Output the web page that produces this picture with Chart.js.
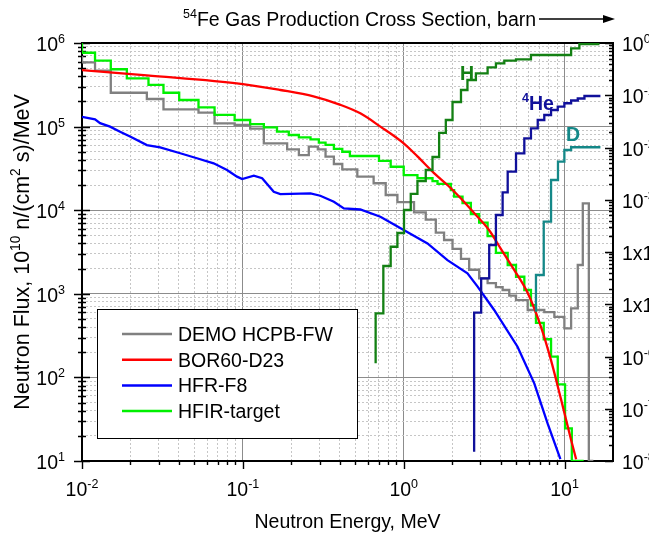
<!DOCTYPE html>
<html>
<head>
<meta charset="utf-8">
<script src="https://cdn.jsdelivr.net/npm/chart.js@4.4.1/dist/chart.umd.min.js"></script>
<style>
  html, body { margin: 0; padding: 0; background: #fff; }
  canvas { display: block; }
</style>
</head>
<body>
<canvas id="c" width="649" height="535"></canvas>
<script>
// ---- Neutron spectra: energy (MeV) and flux, 10^10 n/(cm^2 s)/MeV ----
// Group spectra: each value holds from its energy up to the next one.
const demoE = [0.01, 0.01205, 0.0151, 0.0253, 0.0321, 0.053, 0.0667, 0.0889, 0.111, 0.135,
  0.1885, 0.223, 0.257, 0.2925, 0.3266, 0.368, 0.415, 0.5146, 0.650, 0.7727,
  0.9136, 1.159, 1.371, 1.583, 1.782, 2.011, 2.27, 2.552, 2.945, 3.323,
  3.743, 4.12, 4.53, 4.99, 5.9, 7.48, 8.64, 9.97, 10.98, 12.08,
  12.98, 14.15, 15.1];
const demoFlux = [7.0e5, 5.88e5, 4.66e5, 2.54e5, 2.14e5, 1.61e5, 1.47e5, 1.09e5, 1.05e5, 9.45e4,
  6.3e4, 5.35e4, 4.57e4, 5.75e4, 5.35e4, 4.37e4, 3.57e4, 3.08e4, 2.52e4, 2.1e4,
  1.52e4, 1.25e4, 9.4e3, 7.7e3, 5.4e3, 4.4e3, 3.45e3, 2.62e3, 1.94e3, 1.53e3,
  1.34e3, 1.2e3, 1.11e3, 9.5e2, 8.4e2, 6.4e2, 6.05e2, 5.3e2, 3.86e2, 6.7e2,
  2.21e3, 1.21e4, 10];

const hfirE = [0.01, 0.01205, 0.0151, 0.019, 0.0259, 0.0321, 0.0402, 0.053, 0.0667, 0.0889,
  0.111, 0.135, 0.163, 0.193, 0.223, 0.2634, 0.2967, 0.3266, 0.368, 0.415,
  0.4628, 0.7017, 0.8297, 1.0, 1.217, 1.51, 1.622, 1.963, 2.058, 2.321,
  2.615, 2.945, 3.323, 3.743, 4.43, 4.99, 5.62, 6.18, 6.64, 7.42,
  8.24, 9.07, 10.07, 11.09, 12.08, 13.15];
const hfirFlux = [9.9e5, 7.65e5, 6.14e5, 4.85e5, 3.78e5, 3.15e5, 2.54e5, 2.08e5, 1.70e5, 1.38e5,
  1.20e5, 1.07e5, 9.8e4, 8.7e4, 7.94e4, 7.45e4, 7.05e4, 6.42e4, 6.03e4, 5.4e4,
  5.0e4, 4.45e4, 3.88e4, 3.31e4, 2.63e4, 2.41e4, 2.23e4, 2.06e4, 1.74e4, 1.45e4,
  1.22e4, 9.0e3, 7.1e3, 4.9e3, 3.08e3, 2.21e3, 1.6e3, 1.11e3, 7.3e2, 4.5e2,
  2.86e2, 1.77e2, 82.6, 24.6, 10, 10];

// Fine-group spectra, drawn as continuous lines
const borE = [0.01, 0.0253, 0.1, 0.171, 0.275, 0.404, 0.537, 0.716, 1.0, 1.217,
  1.538, 1.87, 2.27, 2.73, 3.39, 4.0, 4.87, 5.9, 7.14, 8.24,
  9.5, 10.97, 11.8];
const borFlux = [4.75e5, 4.1e5, 3.23e5, 2.74e5, 2.3e5, 1.82e5, 1.44e5, 1.0e5, 6.3e4, 4.4e4,
  2.8e4, 2.0e4, 1.38e4, 9.3e3, 5.8e3, 3.5e3, 1.92e3, 1.02e3, 4.0e2, 1.6e2,
  55, 18, 10.5];

const hfrE = [0.01, 0.01205, 0.01295, 0.01494, 0.01724, 0.0199, 0.0253, 0.0306, 0.0408, 0.0518,
  0.0658, 0.0797, 0.092, 0.099, 0.117, 0.1318, 0.1556, 0.171, 0.2634, 0.303,
  0.368, 0.4246, 0.537, 0.716, 1.0, 1.405, 1.87, 2.49, 2.88, 3.65,
  5.1, 6.48, 7.85, 9.42];
const hfrFlux = [1.31e5, 1.22e5, 1.10e5, 1.0e5, 8.7e4, 7.6e4, 6.0e4, 5.65e4, 4.8e4, 4.18e4,
  3.64e4, 3.03e4, 2.52e4, 2.36e4, 2.59e4, 2.41e4, 1.66e4, 1.56e4, 1.59e4, 1.49e4,
  1.26e4, 1.05e4, 1.02e4, 8.36e3, 5.8e3, 4.0e3, 2.53e3, 1.76e3, 1.22e3, 6.4e2,
  2.33e2, 85, 28, 10.5];

// ---- 54Fe gas production cross sections: energy (MeV), barn ----
const hE = [0.669, 0.747, 0.8297, 0.9136, 1.004, 1.106, 1.217, 1.371, 1.51, 1.66,
  1.827, 2.011, 2.27, 2.49, 2.81, 3.323, 3.743, 4.22, 4.99, 6.18,
  10.98, 12.36, 13.95, 16.48];
const hSigma = [7.41e-7, 6.71e-6, 5.40e-5, 1.26e-4, 2.31e-4, 6.37e-4, 1.29e-3, 2.28e-3, 3.71e-3, 6.58e-3,
  1.90e-2, 3.36e-2, 7.43e-2, 0.126, 0.196, 0.263, 0.343, 0.409, 0.458, 0.488,
  0.589, 0.792, 0.95, 0.95];

const heE = [2.74, 3.03, 3.40, 3.743, 4.12, 4.43, 4.99, 5.62, 6.18, 6.81,
  7.48, 8.24, 9.07, 9.97, 10.98, 12.08, 13.29, 14.98, 16.7];
const heSigma = [1.51e-8, 6.89e-6, 3.14e-5, 1.36e-4, 5.11e-4, 1.38e-3, 3.44e-3, 7.74e-3, 1.50e-2, 2.33e-2,
  3.36e-2, 4.19e-2, 5.22e-2, 6.05e-2, 7.03e-2, 7.94e-2, 8.67e-2, 9.68e-2, 9.68e-2];

const dE = [6.64, 7.42, 8.24, 9.1, 9.97, 10.98, 12.08, 16.7];
const dSigma = [7.2e-6, 3.63e-5, 3.8e-4, 2.39e-3, 5.35e-3, 8.96e-3, 1.01e-2, 1.01e-2];

// ---- names and tick labels ----
const spectrumNames = ['DEMO HCPB-FW', 'BOR60-D23', 'HFR-F8', 'HFIR-target'];
const gasNames = ['H', 'He', 'D'];
const xTickLabels = [['10', '-2'], ['10', '-1'], ['10', '0'], ['10', '1']];
const yTickLabels = [['10', '1'], ['10', '2'], ['10', '3'], ['10', '4'], ['10', '5'], ['10', '6']];
const y2TickLabels = [['10', '-8'], ['10', '-7'], ['10', '-6'], ['1x10', '-5'], ['1x10', '-4'],
  ['10', '-3'], ['10', '-2'], ['10', '-1'], ['10', '0']];

const COLORS = {
  demo: '#808080', bor: '#ff0000', hfr: '#0000ff', hfir: '#00f000',
  H: '#138013', He: '#10109a', D: '#148888'
};
const FONT = '"Liberation Sans", Arial, Helvetica, sans-serif';
const FS = 19.5;   // main text size
const SS = 12.5;   // superscript size

const pts = (xs, ys) => xs.map((x, i) => ({ x, y: ys[i] }));
const isDecade = v => Math.abs(Math.log10(v) - Math.round(Math.log10(v))) < 1e-6;
function logGrid(lo, hi) {
  const out = [];
  for (let e = lo; e < hi; e++)
    for (let m = 1; m < 10; m++) out.push(+(m * Math.pow(10, e)).toPrecision(4));
  out.push(Math.pow(10, hi));
  return out;
}
const xGrid = logGrid(-2, 1).concat([20]);
const yGrid = logGrid(1, 6);
const y2Grid = logGrid(-8, 0);

// text with raised exponent parts
function drawRich(ctx, parts, x, y, align, bold, size) {
  const w8 = bold ? 'bold ' : '';
  const fs = size || FS, ss = size ? size * 0.64 : SS;
  let total = 0;
  const widths = parts.map(([t, sup]) => {
    ctx.font = w8 + (sup ? ss : fs) + 'px ' + FONT;
    const w = ctx.measureText(t).width;
    total += w;
    return w;
  });
  let cx = align === 'center' ? x - total / 2 : align === 'right' ? x - total : x;
  ctx.textAlign = 'left';
  ctx.textBaseline = 'alphabetic';
  parts.forEach(([t, sup], i) => {
    ctx.font = w8 + (sup ? ss : fs) + 'px ' + FONT;
    ctx.fillText(t, cx, sup ? y - fs * 0.41 : y);
    cx += widths[i];
  });
}

const decor = {
  id: 'decor',
  beforeDraw(chart) {
    const { ctx, width, height } = chart;
    ctx.save();
    ctx.fillStyle = '#fff';
    ctx.fillRect(0, 0, width, height);
    ctx.restore();
  },
  beforeDatasetsDraw(chart) {
    const { ctx, chartArea: a } = chart;
    const sx = chart.scales.x, sy = chart.scales.y, s2 = chart.scales.y2;
    ctx.save();
    // frame
    ctx.strokeStyle = '#000';
    ctx.lineWidth = 2;
    ctx.strokeRect(a.left, a.top, a.right - a.left, a.bottom - a.top);

    // tick marks
    ctx.lineWidth = 1.4;
    ctx.beginPath();
    xGrid.forEach(v => {
      if (v >= 20) return;
      const x = Math.round(sx.getPixelForValue(v)) + 0.5;
      ctx.moveTo(x, a.bottom);
      ctx.lineTo(x, a.bottom + (isDecade(v) ? 8 : 4));
    });
    yGrid.forEach(v => {
      const y = Math.round(sy.getPixelForValue(v)) + 0.5;
      const t = isDecade(v) ? 8 : 4;
      ctx.moveTo(a.left - t, y);
      ctx.lineTo(a.left + t, y);
    });
    y2Grid.forEach(v => {
      const y = Math.round(s2.getPixelForValue(v)) + 0.5;
      ctx.moveTo(a.right, y);
      ctx.lineTo(a.right - (isDecade(v) ? 8 : 4), y);
    });
    ctx.stroke();

    // tick labels
    ctx.fillStyle = '#000';
    xTickLabels.forEach(([b, e]) => {
      const x = sx.getPixelForValue(Math.pow(10, +e));
      drawRich(ctx, [[b, false], [e, true]], x, a.bottom + 35, 'center');
    });
    yTickLabels.forEach(([b, e]) => {
      const y = sy.getPixelForValue(Math.pow(10, +e));
      drawRich(ctx, [[b, false], [e, true]], 65, y + 8, 'right');
    });
    y2TickLabels.forEach(([b, e]) => {
      const y = s2.getPixelForValue(Math.pow(10, +e));
      drawRich(ctx, [[b, false], [e, true]], 622, y + 8, 'left');
    });

    // axis titles
    drawRich(ctx, [['Neutron Energy, MeV', false]], (a.left + a.right) / 2, 528, 'center');
    ctx.save();
    ctx.translate(29, 252);
    ctx.rotate(-Math.PI / 2);
    drawRich(ctx, [['Neutron Flux, 10', false], ['10', true], [' n/(cm', false], ['2', true], [' s)/MeV', false]],
      0, 0, 'center', false, 21.5);
    ctx.restore();

    // cross-section axis caption with arrow
    drawRich(ctx, [['54', true], ['Fe Gas Production Cross Section, barn', false]], 183, 26, 'left');
    ctx.strokeStyle = '#000';
    ctx.lineWidth = 1.5;
    ctx.beginPath();
    ctx.moveTo(539, 19);
    ctx.lineTo(606, 19);
    ctx.stroke();
    ctx.beginPath();
    ctx.moveTo(603, 15);
    ctx.lineTo(615, 19);
    ctx.lineTo(603, 23);
    ctx.closePath();
    ctx.fill();
    ctx.restore();
  },
  afterDatasetsDraw(chart) {
    const { ctx } = chart;
    ctx.save();
    // gas labels next to their curves
    ctx.fillStyle = COLORS.H;
    drawRich(ctx, [[gasNames[0], false]], 460, 80, 'left', true);
    ctx.fillStyle = COLORS.He;
    drawRich(ctx, [['4', true], [gasNames[1], false]], 522, 110, 'left', true);
    ctx.fillStyle = COLORS.D;
    drawRich(ctx, [[gasNames[2], false]], 566, 141, 'left', true);

    // legend box
    const lx = 97, ly = 309, lw = 260, lh = 129;
    ctx.fillStyle = '#fff';
    ctx.fillRect(lx, ly, lw, lh);
    ctx.strokeStyle = '#000';
    ctx.lineWidth = 1;
    ctx.strokeRect(lx + 0.5, ly + 0.5, lw, lh);
    const ds = chart.data.datasets;
    for (let i = 0; i < 4; i++) {
      const yy = 334 + i * 25.7;
      ctx.strokeStyle = ds[i].borderColor;
      ctx.lineWidth = 2.5;
      ctx.beginPath();
      ctx.moveTo(122, yy);
      ctx.lineTo(172, yy);
      ctx.stroke();
      ctx.fillStyle = '#000';
      drawRich(ctx, [[ds[i].label, false]], 178, yy + 7, 'left', false);
    }
    ctx.restore();
  }
};

const gridColor = c => (c.tick && isDecade(c.tick.value)) ? '#8c8c8c' : '#c6c6c6';
const gridDash = c => (c.tick && !isDecade(c.tick.value)) ? [2, 2] : [];

function stepSet(label, xs, ys, color, axis, order) {
  return {
    label, data: pts(xs, ys), yAxisID: axis, borderColor: color, backgroundColor: color,
    borderWidth: 2.3, pointRadius: 0, fill: false, stepped: 'after', order
  };
}
function lineSet(label, xs, ys, color, axis, order, smooth) {
  return {
    label, data: pts(xs, ys), yAxisID: axis, borderColor: color, backgroundColor: color,
    borderWidth: 2.3, pointRadius: 0, fill: false,
    cubicInterpolationMode: smooth ? 'monotone' : 'default', tension: 0, order
  };
}

new Chart(document.getElementById('c'), {
  type: 'line',
  data: {
    datasets: [
      stepSet(spectrumNames[0], demoE, demoFlux, COLORS.demo, 'y', 7),
      lineSet(spectrumNames[1], borE, borFlux, COLORS.bor, 'y', 4, true),
      lineSet(spectrumNames[2], hfrE, hfrFlux, COLORS.hfr, 'y', 5, false),
      stepSet(spectrumNames[3], hfirE, hfirFlux, COLORS.hfir, 'y', 6),
      stepSet(gasNames[0], hE, hSigma, COLORS.H, 'y2', 3),
      stepSet('4' + gasNames[1], heE, heSigma, COLORS.He, 'y2', 2),
      stepSet(gasNames[2], dE, dSigma, COLORS.D, 'y2', 1)
    ]
  },
  options: {
    responsive: false,
    animation: false,
    devicePixelRatio: 1,
    layout: { padding: { top: 43, left: 0, right: 0, bottom: 0 } },
    plugins: { legend: { display: false }, tooltip: { enabled: false } },
    scales: {
      x: {
        type: 'logarithmic', min: 0.01, max: 20,
        ticks: { display: false },
        grid: { color: gridColor, lineWidth: 1, drawTicks: false },
        border: { display: false, dash: gridDash },
        afterBuildTicks: s => { s.ticks = xGrid.map(v => ({ value: v })); },
        afterFit: s => { s.height = 74; }
      },
      y: {
        type: 'logarithmic', position: 'left', min: 10, max: 1e6,
        ticks: { display: false },
        grid: { color: gridColor, lineWidth: 1, drawTicks: false },
        border: { display: false, dash: gridDash },
        afterBuildTicks: s => { s.ticks = yGrid.map(v => ({ value: v })); },
        afterFit: s => { s.width = 82; }
      },
      y2: {
        type: 'logarithmic', position: 'right', min: 1e-8, max: 1,
        ticks: { display: false },
        grid: { display: false, drawTicks: false },
        border: { display: false },
        afterBuildTicks: s => { s.ticks = y2Grid.map(v => ({ value: v })); },
        afterFit: s => { s.width = 36; }
      }
    }
  },
  plugins: [decor]
});
</script>
</body>
</html>
